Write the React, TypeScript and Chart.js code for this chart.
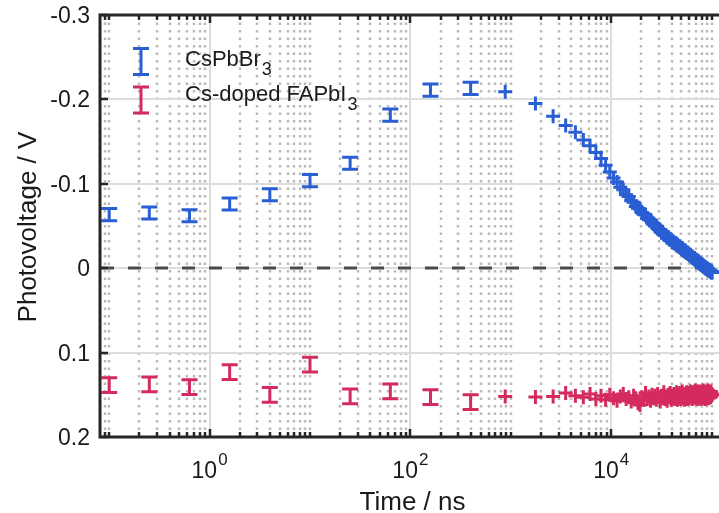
import React, { useEffect, useRef } from "react";
import { Chart, registerables } from "chart.js";

Chart.register(...registerables);

// ---------- data ----------
const barTimes = [0.1, 0.251, 0.631, 1.585, 3.98, 10, 25.1, 63.1, 158.5, 398];
const blueBarValues = [-0.0634, -0.0654, -0.0622, -0.0761, -0.087, -0.1037, -0.1243, -0.1813, -0.211, -0.213];
const blueBarErrors = [0.0072, 0.0072, 0.0072, 0.0072, 0.0072, 0.0072, 0.0072, 0.0072, 0.0072, 0.0072];
const redBarValues = [0.1385, 0.1377, 0.1409, 0.1231, 0.15, 0.1143, 0.1518, 0.146, 0.1528, 0.1587];
const redBarErrors = [0.0087, 0.0087, 0.0087, 0.0087, 0.0087, 0.0087, 0.0087, 0.0087, 0.0087, 0.0087];

const plusTimes = [
  880, 1760, 2640, 3520, 4400, 5280, 6160, 7040, 7920, 8800,
  9680, 10560, 11440, 12320, 13200, 14080, 14960, 15840, 16720, 17600,
  18480, 19360, 20240, 21120, 22000, 22880, 23760, 24640, 25520, 26400,
  27280, 28160, 29040, 29920, 30800, 31680, 32560, 33440, 34320, 35200,
  36080, 36960, 37840, 38720, 39600, 40480, 41360, 42240, 43120, 44000,
  44880, 45760, 46640, 47520, 48400, 49280, 50160, 51040, 51920, 52800,
  53680, 54560, 55440, 56320, 57200, 58080, 58960, 59840, 60720, 61600,
  62480, 63360, 64240, 65120, 66000, 66880, 67760, 68640, 69520, 70400,
  71280, 72160, 73040, 73920, 74800, 75680, 76560, 77440, 78320, 79200,
  80080, 80960, 81840, 82720, 83600, 84480, 85360, 86240, 87120, 88000,
  88880, 89760, 90640, 91520, 92400, 93280, 94160, 95040, 95920, 96800,
  97680, 98560, 99440, 100320, 101200,
];

const bluePlusValues = [
  -0.209, -0.195, -0.18, -0.169, -0.161, -0.152, -0.145, -0.137, -0.13, -0.122,
  -0.114, -0.107, -0.102, -0.096, -0.093, -0.087, -0.085, -0.08, -0.078, -0.073,
  -0.071, -0.07, -0.066, -0.064, -0.063, -0.059, -0.058, -0.057, -0.054, -0.053,
  -0.05, -0.05, -0.047, -0.046, -0.045, -0.042, -0.043, -0.04, -0.039, -0.039,
  -0.036, -0.037, -0.034, -0.035, -0.033, -0.031, -0.032, -0.03, -0.029, -0.03,
  -0.027, -0.028, -0.026, -0.025, -0.026, -0.024, -0.023, -0.024, -0.021, -0.022,
  -0.02, -0.021, -0.019, -0.018, -0.019, -0.017, -0.017, -0.016, -0.015, -0.016,
  -0.014, -0.013, -0.014, -0.012, -0.012, -0.011, -0.012, -0.01, -0.009, -0.01,
  -0.008, -0.009, -0.007, -0.007, -0.008, -0.006, -0.005, -0.006, -0.004, -0.005,
  -0.004, -0.003, -0.004, -0.002, -0.002, -0.001, -0.002, 0.0, -0.001, 0.0,
  0.001, 0.0, 0.001, 0.002, 0.001, 0.002, 0.003, 0.002, 0.003, 0.004,
  0.003, 0.004, 0.005, 0.004, 0.005,
];

const redPlusValues = [
  0.152, 0.1525, 0.152, 0.148, 0.151, 0.153, 0.149, 0.155, 0.151, 0.156,
  0.15, 0.154, 0.157, 0.152, 0.149, 0.155, 0.153, 0.158, 0.151, 0.154,
  0.16, 0.162, 0.153, 0.156, 0.148, 0.155, 0.152, 0.157, 0.15, 0.154,
  0.151, 0.156, 0.149, 0.153, 0.158, 0.151, 0.154, 0.147, 0.155, 0.152,
  0.157, 0.15, 0.153, 0.148, 0.156, 0.151, 0.154, 0.149, 0.155, 0.152,
  0.147, 0.156, 0.15, 0.153, 0.148, 0.155, 0.151, 0.146, 0.154, 0.15,
  0.156, 0.149, 0.152, 0.147, 0.155, 0.151, 0.148, 0.154, 0.15, 0.146,
  0.153, 0.149, 0.155, 0.151, 0.147, 0.153, 0.15, 0.145, 0.154, 0.149,
  0.152, 0.146, 0.155, 0.15, 0.148, 0.153, 0.146, 0.151, 0.155, 0.149,
  0.147, 0.153, 0.15, 0.145, 0.154, 0.149, 0.152, 0.147, 0.155, 0.15,
  0.146, 0.153, 0.149, 0.151, 0.145, 0.154, 0.15, 0.147, 0.152, 0.148,
  0.153, 0.146, 0.151, 0.149, 0.15,
];

const yTickValues = [-0.3, -0.2, -0.1, 0, 0.1, 0.2];
const yTickLabels = ["-0.3", "-0.2", "-0.1", "0", "0.1", "0.2"];
const xMajorTicks = [1, 100, 10000];
const xMajorExponents = ["0", "2", "4"];

const legendNames = ["CsPbBr", "Cs-doped FAPbI"];
const legendSubscripts = ["3", "3"];

const X_MIN = 0.081;
const X_MAX = 136000;
const Y_MIN = -0.3;
const Y_MAX = 0.2;

const BLUE = "#2A5ED3";
const RED = "#D42B5E";
const AXIS = "#262626";
const FONT = '"Liberation Sans", Arial, Helvetica, sans-serif';

function minorTickValues(): number[] {
  const out: number[] = [];
  for (let d = -2; d <= 5; d++) {
    for (let m = 1; m <= 9; m++) {
      const v = m * Math.pow(10, d);
      if (v < X_MIN || v > X_MAX) continue;
      if (xMajorTicks.some((t) => Math.abs(t - v) / t < 1e-9)) continue;
      out.push(v);
    }
  }
  return out;
}

function drawErrorBar(ctx: CanvasRenderingContext2D, px: number, yTop: number, yBot: number, color: string) {
  ctx.strokeStyle = color;
  ctx.lineWidth = 3;
  ctx.lineCap = "butt";
  ctx.beginPath();
  ctx.moveTo(px, yTop);
  ctx.lineTo(px, yBot);
  ctx.moveTo(px - 8, yTop);
  ctx.lineTo(px + 8, yTop);
  ctx.moveTo(px - 8, yBot);
  ctx.lineTo(px + 8, yBot);
  ctx.stroke();
}

const matlabPlugin = {
  id: "matlabLook",
  beforeDatasetsDraw(chart: any) {
    const { ctx, chartArea: a, scales } = chart;
    const x = scales.x;
    const y = scales.y;
    ctx.save();
    ctx.beginPath();
    ctx.rect(a.left, a.top, a.right - a.left, a.bottom - a.top);
    ctx.clip();

    // minor dotted vertical grid
    ctx.strokeStyle = "#bababa";
    ctx.lineWidth = 2.5;
    ctx.setLineDash([2.5, 5]);
    for (const v of minorTickValues()) {
      const px = Math.round(x.getPixelForValue(v));
      ctx.beginPath();
      ctx.moveTo(px, a.top);
      ctx.lineTo(px, a.bottom);
      ctx.stroke();
    }
    ctx.setLineDash([]);

    // major grid
    ctx.strokeStyle = "#dcdcdc";
    ctx.lineWidth = 2;
    for (const v of yTickValues) {
      const py = Math.round(y.getPixelForValue(v));
      ctx.beginPath();
      ctx.moveTo(a.left, py);
      ctx.lineTo(a.right, py);
      ctx.stroke();
    }
    for (const v of xMajorTicks) {
      const px = Math.round(x.getPixelForValue(v));
      ctx.beginPath();
      ctx.moveTo(px, a.top);
      ctx.lineTo(px, a.bottom);
      ctx.stroke();
    }

    // zero dashed line
    const y0 = Math.round(y.getPixelForValue(0));
    ctx.strokeStyle = "#4a4a4a";
    ctx.lineWidth = 3;
    ctx.setLineDash([13, 14]);
    ctx.beginPath();
    ctx.moveTo(a.left + 1, y0);
    ctx.lineTo(a.right, y0);
    ctx.stroke();
    ctx.setLineDash([]);
    ctx.restore();
  },
  afterDatasetsDraw(chart: any) {
    const { ctx, scales } = chart;
    const x = scales.x;
    const y = scales.y;
    ctx.save();
    for (let i = 0; i < barTimes.length; i++) {
      const px = x.getPixelForValue(barTimes[i]);
      drawErrorBar(
        ctx,
        px,
        y.getPixelForValue(blueBarValues[i] - blueBarErrors[i]),
        y.getPixelForValue(blueBarValues[i] + blueBarErrors[i]),
        BLUE
      );
      drawErrorBar(
        ctx,
        px,
        y.getPixelForValue(redBarValues[i] - redBarErrors[i]),
        y.getPixelForValue(redBarValues[i] + redBarErrors[i]),
        RED
      );
    }
    ctx.restore();
  },
  afterDraw(chart: any) {
    const { ctx, chartArea: a, scales } = chart;
    const x = scales.x;
    const y = scales.y;
    ctx.save();

    // ticks
    ctx.strokeStyle = AXIS;
    ctx.lineWidth = 2.5;
    ctx.beginPath();
    for (const v of minorTickValues()) {
      const px = Math.round(x.getPixelForValue(v));
      ctx.moveTo(px, a.bottom);
      ctx.lineTo(px, a.bottom - 5);
      ctx.moveTo(px, a.top);
      ctx.lineTo(px, a.top + 5);
    }
    for (const v of xMajorTicks) {
      const px = Math.round(x.getPixelForValue(v));
      ctx.moveTo(px, a.bottom);
      ctx.lineTo(px, a.bottom - 8);
      ctx.moveTo(px, a.top);
      ctx.lineTo(px, a.top + 8);
    }
    for (const v of yTickValues) {
      const py = Math.round(y.getPixelForValue(v));
      ctx.moveTo(a.left, py);
      ctx.lineTo(a.left + 8, py);
    }
    ctx.stroke();

    // frame
    ctx.lineWidth = 3;
    ctx.lineCap = "square";
    ctx.beginPath();
    ctx.moveTo(a.left, a.top);
    ctx.lineTo(a.left, a.bottom);
    ctx.lineTo(a.right, a.bottom);
    ctx.moveTo(a.left, a.top);
    ctx.lineTo(a.right, a.top);
    ctx.stroke();

    ctx.fillStyle = "#1a1a1a";
    // y tick labels
    ctx.font = `23px ${FONT}`;
    ctx.textAlign = "right";
    ctx.textBaseline = "alphabetic";
    yTickValues.forEach((v, i) => {
      const py = y.getPixelForValue(v);
      ctx.fillText(yTickLabels[i], a.left - 10, py + 8);
    });

    // x tick labels with superscript
    xMajorTicks.forEach((v, i) => {
      const px = x.getPixelForValue(v);
      ctx.font = `23px ${FONT}`;
      const w1 = ctx.measureText("10").width;
      ctx.font = `17px ${FONT}`;
      const w2 = ctx.measureText(xMajorExponents[i]).width;
      const start = px - (w1 + 1 + w2) / 2;
      ctx.textAlign = "left";
      ctx.font = `23px ${FONT}`;
      ctx.fillText("10", start, 478);
      ctx.font = `17px ${FONT}`;
      ctx.fillText(xMajorExponents[i], start + w1 + 1, 465);
    });

    // axis titles
    ctx.font = `26px ${FONT}`;
    ctx.textAlign = "center";
    ctx.fillText("Time / ns", (a.left + a.right) / 2, 510);
    ctx.save();
    ctx.translate(36, (a.top + a.bottom) / 2 + 1);
    ctx.rotate(-Math.PI / 2);
    ctx.fillText("Photovoltage / V", 0, 0);
    ctx.restore();

    // legend
    const legendColors = [BLUE, RED];
    const legendCenters = [61.5, 100];
    const legendBaselines = [66, 100.5];
    for (let i = 0; i < 2; i++) {
      const cy = legendCenters[i];
      drawErrorBar(ctx, 141, cy - 13, cy + 13, legendColors[i]);
      ctx.fillStyle = "#1a1a1a";
      ctx.textAlign = "left";
      ctx.font = `22px ${FONT}`;
      ctx.fillText(legendNames[i], 185, legendBaselines[i]);
      const w = ctx.measureText(legendNames[i]).width;
      ctx.font = `18px ${FONT}`;
      ctx.fillText(legendSubscripts[i], 185 + w + 1, legendBaselines[i] + 9);
    }

    ctx.restore();
  },
};

export default function App() {
  const canvasRef = useRef<HTMLCanvasElement | null>(null);

  useEffect(() => {
    const canvas = canvasRef.current;
    if (!canvas) return;
    const chart = new Chart(canvas, {
      type: "scatter",
      data: {
        datasets: [
          {
            label: "CsPbBr3",
            data: plusTimes.map((t, i) => ({ x: t, y: bluePlusValues[i] })),
            pointStyle: "cross",
            pointRadius: 7,
            pointBorderWidth: 3,
            borderColor: BLUE,
            backgroundColor: BLUE,
            showLine: false,
          },
          {
            label: "Cs-doped FAPbI3",
            data: plusTimes.map((t, i) => ({ x: t, y: redPlusValues[i] })),
            pointStyle: "cross",
            pointRadius: 7,
            pointBorderWidth: 3,
            borderColor: RED,
            backgroundColor: RED,
            showLine: false,
          },
        ],
      },
      options: {
        responsive: false,
        animation: false,
        devicePixelRatio: 1,
        events: [],
        layout: { padding: { left: 100, top: 15, right: 8, bottom: 76 } },
        scales: {
          x: { type: "logarithmic", min: X_MIN, max: X_MAX, display: false },
          y: { type: "linear", min: Y_MIN, max: Y_MAX, reverse: true, display: false },
        },
        plugins: {
          legend: { display: false },
          tooltip: { enabled: false },
        },
      },
      plugins: [matlabPlugin],
    } as any);
    return () => chart.destroy();
  }, []);

  return (
    <div
      style={{
        position: "absolute",
        left: 0,
        top: 0,
        width: 719,
        height: 513,
        overflow: "hidden",
        background: "#ffffff",
      }}
    >
      <canvas ref={canvasRef} width={735} height={513} style={{ display: "block", width: 735, height: 513 }} />
    </div>
  );
}
